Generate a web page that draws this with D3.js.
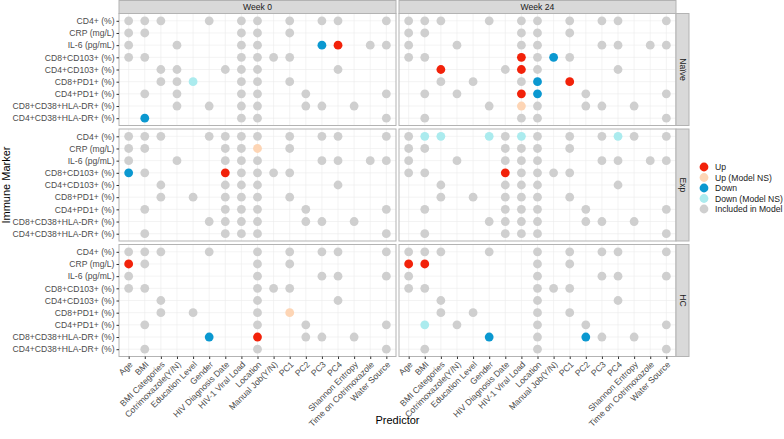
<!DOCTYPE html>
<html>
<head>
<meta charset="utf-8">
<script src="https://cdn.jsdelivr.net/npm/d3@7"></script>
<style>
  body { margin: 0; background: #fff; }
  svg { display: block; font-family: "Liberation Sans", Arial, sans-serif; }
</style>
</head>
<body>
<div id="chart"></div>
<script>
// categories
const predictors = ["Age", "BMI", "BMI Categories", "Cotrimoxazole(Y/N)", "Education Level",
  "Gender", "HIV Diagnosis Date", "HIV-1 Viral Load", "Location", "Manual Job(Y/N)",
  "PC1", "PC2", "PC3", "PC4", "Shannon Entropy", "Time on Cotrimoxazole", "Water Source"];
const markers = ["CD4+ (%)", "CRP (mg/L)", "IL-6 (pg/mL)", "CD8+CD103+ (%)", "CD4+CD103+ (%)",
  "CD8+PD1+ (%)", "CD4+PD1+ (%)", "CD8+CD38+HLA-DR+ (%)", "CD4+CD38+HLA-DR+ (%)"];
const weeks = ["Week 0", "Week 24"];
const groups = ["Naïve", "Exp", "HC"];

// status codes, one char per predictor: g = included, U = up, u = up (NS), D = down, d = down (NS), . = none
const naiveW0 = [
  "ggg..g.gg.g.gg..g",
  "gg.....gg.g......",
  "g..g...gg...DU.gg",
  "gg.....gggg......",
  "..gg..ggg....g...",
  "..ggd..gg.g......",
  ".g.g...gg..g....g",
  "...g.g.gg..gg.g..",
  ".D.....gg.......g"
];
const naiveW24 = [
  "ggg..g.gg.g.gg..g",
  "gg.....gg.g......",
  "g..g...gg...gg.gg",
  "gg.....UgDg......",
  "..U...gUg....g...",
  "..g.g..gD.U......",
  ".g.g...UD..g....g",
  ".....g.ug..gg.g..",
  ".g.....gg.......g"
];
const expW0 = [
  "ggg..gggg.g.gg..g",
  "gg....ggu.g......",
  "g..g..ggg...gg.gg",
  "Dg....Ugggg......",
  "..g...ggg....g...",
  "..g.g.ggg.g......",
  ".g....ggg..g....g",
  ".....gggg..gg.g..",
  ".g....ggg.......g"
];
const expW24 = [
  "gdd..dgdg.g.gdg.g",
  "gg....ggg.g......",
  "g..g..ggg...gg.gg",
  "gg....Ugggg......",
  "..g...ggg....g...",
  "..g.g.ggg.g......",
  ".g....ggg..g....g",
  ".....gggg..gg.g..",
  ".g....ggg.......g"
];
const hcW0 = [
  "ggg..g..g.g.gg..g",
  "Ug......g.g......",
  "g.......g...gg..g",
  "gg......ggg......",
  "..g.....g....g...",
  "..g.g...g.u......",
  ".g......g..g....g",
  ".....D..U..gg.g..",
  ".g......g.......g"
];
const hcW24 = [
  "ggg..g..g.g.gg..g",
  "UU......g.g......",
  "g.......g...gg..g",
  "gg......ggg......",
  "..g.....g....g...",
  "..g.g...g.g......",
  ".d.g....g..g....g",
  ".....D..g..Dg.g..",
  ".g......g.......g"
];
const statusCodes = ["U", "u", "D", "d", "g"];
const statusLabels = ["Up", "Up (Model NS)", "Down", "Down (Model NS)", "Included in Model"];
const statusColors = ["#F2220A", "#FDD5B5", "#0B98D0", "#ABEBEE", "#CFCFCF"];

const panels = [
  [naiveW0, naiveW24],
  [expW0, expW24],
  [hcW0, hcW24]
];

const W = 784, H = 439;
const panelW = 277, panelH = 112;
const panelLeft = [119, 399];
const panelTop = [13.5, 129, 244.5];
const font = 8.6;

const svg = d3.select("#chart").append("svg")
  .attr("width", W).attr("height", H);

const color = d3.scaleOrdinal().domain(statusCodes).range(statusColors);

const x = d3.scalePoint().domain(predictors).range([0, panelW]).padding(0.6);
const y = d3.scalePoint().domain(markers).range([0, panelH]).padding(0.6);

panels.forEach((row, ri) => {
  row.forEach((grid, ci) => {
    const g = svg.append("g")
      .attr("transform", `translate(${panelLeft[ci]},${panelTop[ri]})`);

    // grid
    g.selectAll(".vg").data(predictors).join("line")
      .attr("x1", d => x(d)).attr("x2", d => x(d))
      .attr("y1", 0).attr("y2", panelH)
      .attr("stroke", "#ebebeb").attr("stroke-width", 0.6);
    g.selectAll(".hg").data(markers).join("line")
      .attr("y1", d => y(d)).attr("y2", d => y(d))
      .attr("x1", 0).attr("x2", panelW)
      .attr("stroke", "#ebebeb").attr("stroke-width", 0.6);

    // dots
    const pts = [];
    grid.forEach((s, mi) => {
      s.split("").forEach((c, pi) => {
        if (c !== ".") pts.push({ m: markers[mi], p: predictors[pi], s: c });
      });
    });
    g.selectAll("circle").data(pts).join("circle")
      .attr("cx", d => x(d.p))
      .attr("cy", d => y(d.m))
      .attr("r", 4.4)
      .attr("fill", d => color(d.s));

    g.append("rect")
      .attr("width", panelW).attr("height", panelH)
      .attr("fill", "none").attr("stroke", "#b3b3b3").attr("stroke-width", 1);

    // y axis on left column
    if (ci === 0) {
      const ya = g.append("g").call(d3.axisLeft(y).tickSize(2.5).tickPadding(2));
      ya.select(".domain").remove();
      ya.selectAll("line").attr("stroke", "#333");
      ya.selectAll("text").attr("font-size", font).attr("fill", "#4d4d4d")
        .attr("font-family", "Liberation Sans, Arial, sans-serif");
    }
    // x axis on bottom row
    if (ri === panels.length - 1) {
      const xa = g.append("g").attr("transform", `translate(0,${panelH})`)
        .call(d3.axisBottom(x).tickSize(2.5));
      xa.select(".domain").remove();
      xa.selectAll("line").attr("stroke", "#333");
      xa.selectAll("text")
        .attr("font-size", font).attr("fill", "#4d4d4d")
        .attr("font-family", "Liberation Sans, Arial, sans-serif")
        .attr("text-anchor", "end")
        .attr("dy", null).attr("y", null)
        .attr("transform", "translate(4,8.5) rotate(-45)");
    }
  });
});

// column strips
weeks.forEach((w, ci) => {
  svg.append("rect")
    .attr("x", panelLeft[ci]).attr("y", 0.5)
    .attr("width", panelW).attr("height", 13)
    .attr("fill", "#d9d9d9").attr("stroke", "#b3b3b3");
  svg.append("text")
    .attr("x", panelLeft[ci] + panelW / 2).attr("y", 7)
    .attr("text-anchor", "middle").attr("dominant-baseline", "central")
    .attr("font-size", font).attr("fill", "#1a1a1a").text(w);
});

// row strips
const stripX = panelLeft[1] + panelW;
groups.forEach((gname, ri) => {
  svg.append("rect")
    .attr("x", stripX).attr("y", panelTop[ri])
    .attr("width", 13).attr("height", panelH)
    .attr("fill", "#d9d9d9").attr("stroke", "#b3b3b3");
  svg.append("text")
    .attr("transform", `translate(${stripX + 6.5},${panelTop[ri] + panelH / 2}) rotate(90)`)
    .attr("text-anchor", "middle").attr("dominant-baseline", "central")
    .attr("font-size", font).attr("fill", "#1a1a1a").text(gname);
});

// axis titles
svg.append("text")
  .attr("x", (panelLeft[0] + panelLeft[1] + panelW) / 2).attr("y", 424)
  .attr("text-anchor", "middle").attr("font-size", 11).attr("fill", "#000")
  .text("Predictor");
svg.append("text")
  .attr("transform", `translate(9.5,${(panelTop[0] + panelTop[2] + panelH) / 2}) rotate(-90)`)
  .attr("text-anchor", "middle").attr("font-size", 11).attr("fill", "#000")
  .text("Immune Marker");

// legend
const legend = svg.append("g").attr("transform", "translate(704,167)");
statusLabels.forEach((lab, i) => {
  legend.append("circle")
    .attr("cx", 0).attr("cy", i * 10.5).attr("r", 4.4)
    .attr("fill", statusColors[i]);
  legend.append("text")
    .attr("x", 11).attr("y", i * 10.5)
    .attr("dominant-baseline", "central")
    .attr("font-size", font).attr("fill", "#1a1a1a").text(lab);
});
</script>
</body>
</html>
